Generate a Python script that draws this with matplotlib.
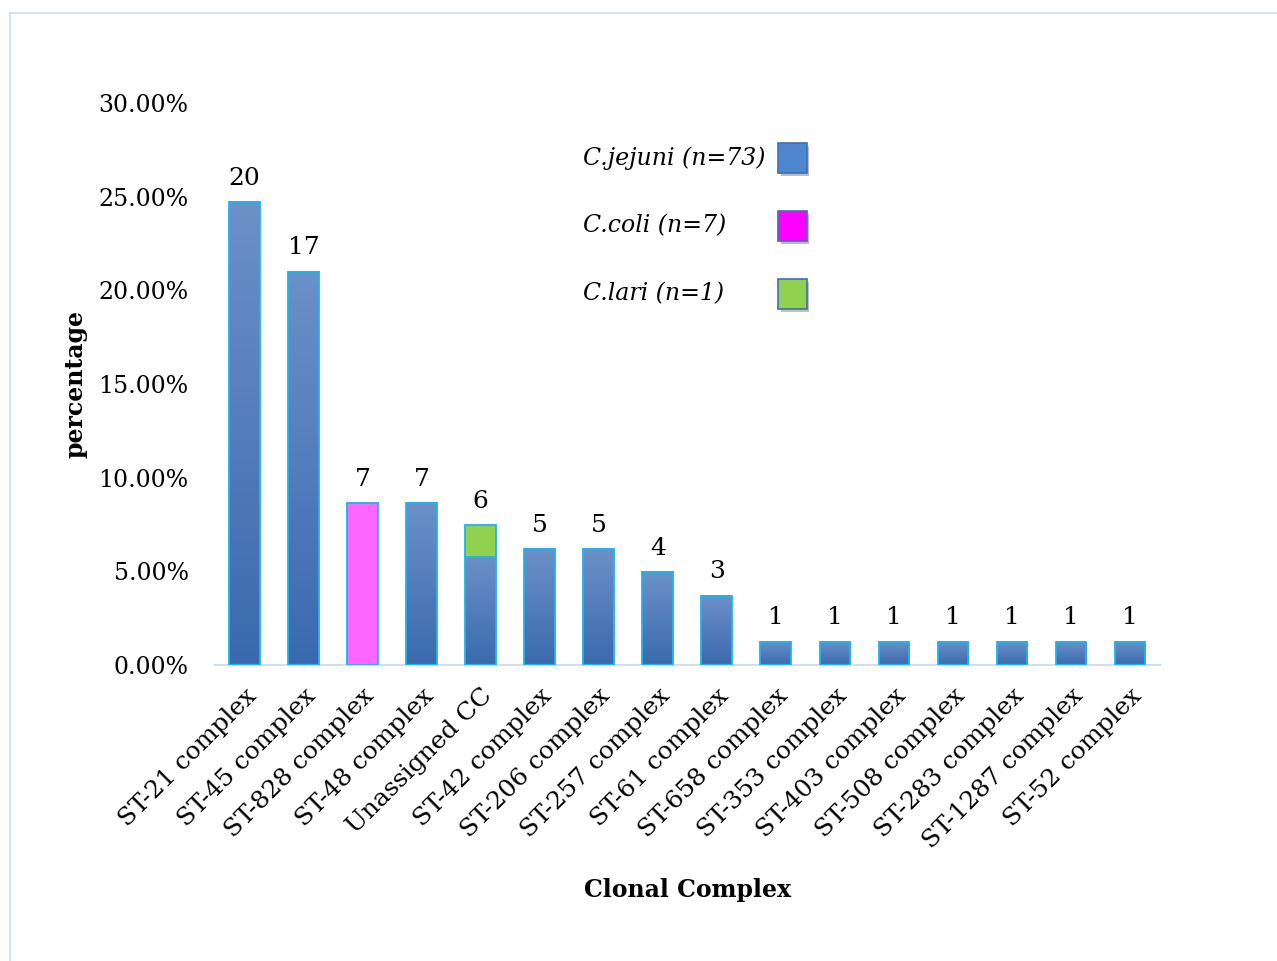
import matplotlib
matplotlib.use("Agg")
import matplotlib.pyplot as plt
import numpy as np
from matplotlib.colors import LinearSegmentedColormap
from matplotlib.patches import Rectangle
from matplotlib.transforms import ScaledTranslation
import matplotlib.patheffects as pe

# clonal complexes and percentages
complexes = ["ST-21 complex", "ST-45 complex", "ST-828 complex", "ST-48 complex",
             "Unassigned CC", "ST-42 complex", "ST-206 complex", "ST-257 complex",
             "ST-61 complex", "ST-658 complex", "ST-353 complex", "ST-403 complex",
             "ST-508 complex", "ST-283 complex", "ST-1287 complex", "ST-52 complex"]
counts = [20, 17, 7, 7, 6, 5, 5, 4, 3, 1, 1, 1, 1, 1, 1, 1]
jejuni_pct = [24.69, 20.99, 0, 8.64, 5.77, 6.17, 6.17, 4.94, 3.70,
              1.23, 1.23, 1.23, 1.23, 1.23, 1.23, 1.23]
coli_pct = [0, 0, 8.64, 0, 0, 0, 0, 0, 0, 0, 0, 0, 0, 0, 0, 0]
lari_pct = [0, 0, 0, 0, 1.70, 0, 0, 0, 0, 0, 0, 0, 0, 0, 0, 0]
legend_labels = ["C.jejuni (n=73)", "C.coli (n=7)", "C.lari (n=1)"]
legend_colors = ["#4F87CF", "#FF00FF", "#92D050"]

plt.rcParams["font.family"] = ["DejaVu Serif"]

fig = plt.figure(figsize=(12.77, 9.61), dpi=100)
ax = fig.add_axes([0.1684, 0.308, 0.7396, 0.585])

edge = "#1EB4EE"
grad = LinearSegmentedColormap.from_list("g", ["#3A6AAE", "#6C90C8"])
x = np.arange(len(complexes))
w = 0.52

jej = ax.bar(x, jejuni_pct, width=w, facecolor="none", edgecolor=edge, linewidth=1.3, zorder=3)
# gradient fill for each jejuni bar
for r in jej:
    if r.get_height() <= 0:
        continue
    x0, y0 = r.get_x(), r.get_y()
    im = ax.imshow(np.linspace(0, 1, 100).reshape(-1, 1), cmap=grad, origin="lower",
                   extent=[x0, x0 + r.get_width(), y0, y0 + r.get_height()],
                   aspect="auto", zorder=2)
    im.set_clip_path(r)
ax.bar(x, coli_pct, width=w, color="#FF66FF", edgecolor=edge, linewidth=1.3, zorder=3)
ax.bar(x, lari_pct, width=w, bottom=jejuni_pct, color="#92D050", edgecolor=edge,
       linewidth=1.3, zorder=3)

totals = [a + b + c for a, b, c in zip(jejuni_pct, coli_pct, lari_pct)]
for xi, t, n in zip(x, totals, counts):
    ax.annotate(str(n), (xi, t), xytext=(0, 9), textcoords="offset points",
                ha="center", va="bottom", fontsize=18)

ax.set_xlim(-0.5, len(complexes) - 0.5)
ax.set_ylim(0, 30)
ax.set_yticks(np.arange(0, 31, 5))
ax.set_yticklabels([f"{v:.2f}%" for v in np.arange(0, 31, 5)], fontsize=17)
ax.set_xticks(x)
ax.set_xticklabels(complexes, rotation=45, ha="right", va="top",
                   rotation_mode="anchor", fontsize=18)
shift = ScaledTranslation(-6 / 100, 0, fig.dpi_scale_trans)
for lbl in ax.get_xticklabels():
    lbl.set_transform(lbl.get_transform() + shift)
ax.tick_params(length=0)
ax.tick_params(axis="y", pad=19)
ax.tick_params(axis="x", pad=14)
for s in ["top", "right", "left"]:
    ax.spines[s].set_visible(False)
ax.spines["bottom"].set_color("#D3DEEC")
ax.spines["bottom"].set_linewidth(1.5)

ax.set_ylabel("percentage", fontsize=17, fontweight="bold", labelpad=8)
ax.set_xlabel("Clonal Complex", fontsize=17, fontweight="bold", labelpad=18)

# legend: italic labels on the left, colour squares on the right
shadow = [pe.SimplePatchShadow(offset=(2, -2), alpha=0.3), pe.Normal()]
for i, (lab, col) in enumerate(zip(legend_labels, legend_colors)):
    yc = 0.902 - i * 0.121
    ax.text(0.3894, yc, lab, transform=ax.transAxes, ha="left", va="center",
            fontsize=17, style="italic")
    ax.add_patch(Rectangle((0.5958, yc - 0.0267), 0.0306, 0.0534,
                           transform=ax.transAxes, facecolor=col,
                           edgecolor="#3F6FAF", linewidth=1.2,
                           path_effects=shadow, clip_on=False, zorder=4))

# outer chart-area border
fig.patches.append(Rectangle((10 / 1277, -0.05), 1.2, 1 - 13 / 961 + 0.05,
                             transform=fig.transFigure, fill=False,
                             edgecolor="#D5E1EE", linewidth=1.5))

fig.savefig("out.png", dpi=100)
